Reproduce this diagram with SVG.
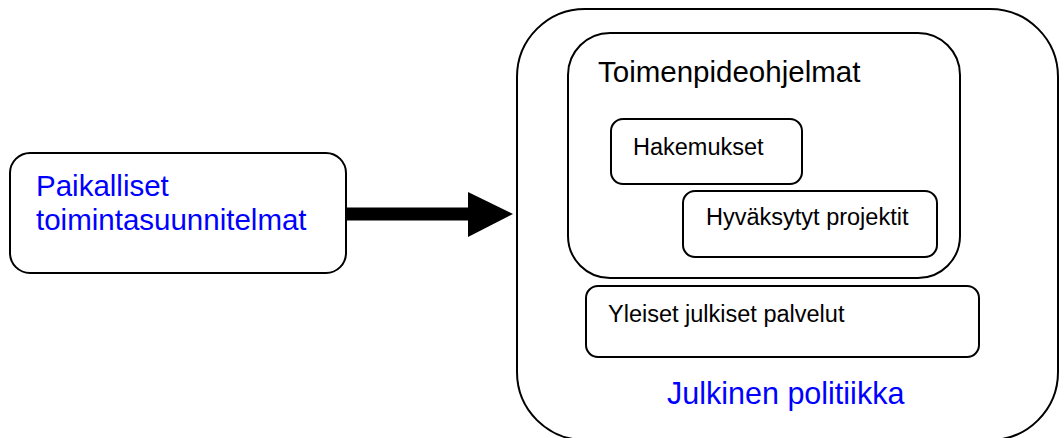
<svg xmlns="http://www.w3.org/2000/svg" width="1064" height="438" viewBox="0 0 1064 438">
  <style>
    .box { fill: #fff; stroke: #000; stroke-width: 2; }
    .big { font-family: "Liberation Sans", Arial, sans-serif; font-size: 29.5px; }
    .small { font-family: "Liberation Sans", Arial, sans-serif; font-size: 23.5px; fill: #000; }
    .blue { fill: #0000ff; }
    .black { fill: #000; }
  </style>
  <rect width="1064" height="438" fill="#fff"/>

  <!-- Source: local action plans -->
  <g id="paikalliset">
    <rect class="box" x="10" y="153" width="336" height="120" rx="20" ry="20"/>
    <text class="big blue" x="36" y="196">Paikalliset</text>
    <text class="big blue" x="36" y="230">toimintasuunnitelmat</text>
  </g>

  <!-- Connector into the public policy container -->
  <g id="connectors">
    <rect x="347" y="207.5" width="122" height="13" fill="#000"/>
    <polygon points="468,192 513,214 468,237" fill="#000"/>
  </g>

  <!-- Public policy container -->
  <g id="julkinen-politiikka">
    <rect class="box" x="517" y="9" width="541" height="431" rx="68" ry="68"/>
    <text class="big blue" x="667" y="404" style="font-size:30.5px">Julkinen politiikka</text>
  </g>

  <!-- Programmes of measures -->
  <g id="toimenpideohjelmat">
    <rect class="box" x="568" y="33" width="392" height="245" rx="42" ry="42"/>
    <text class="big black" x="598" y="82">Toimenpideohjelmat</text>
  </g>

  <g id="hakemukset">
    <rect class="box" x="611" y="119" width="191" height="65" rx="12" ry="12"/>
    <text class="small" x="633" y="155">Hakemukset</text>
  </g>

  <g id="hyvaksytyt-projektit">
    <rect class="box" x="683" y="191" width="254" height="66" rx="12" ry="12"/>
    <text class="small" x="706" y="225">Hyväksytyt projektit</text>
  </g>

  <g id="yleiset-julkiset-palvelut">
    <rect class="box" x="586" y="286" width="393" height="71" rx="12" ry="12"/>
    <text class="small" x="608" y="322">Yleiset julkiset palvelut</text>
  </g>
</svg>
